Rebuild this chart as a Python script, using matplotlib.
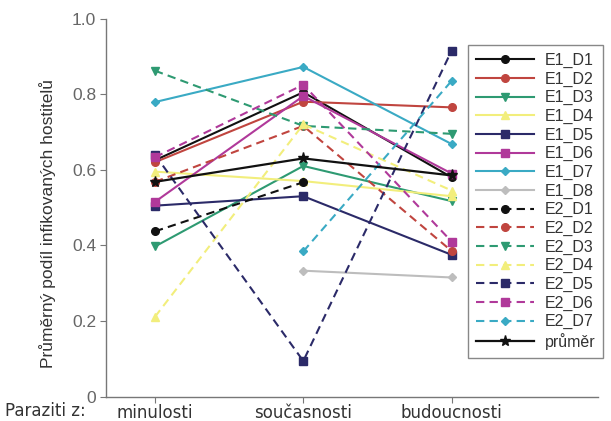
import numpy as np
import matplotlib.pyplot as plt

# ---------------------------------------------------------------------------
# Data
# ---------------------------------------------------------------------------

categories = ["minulosti", "současnosti", "budoucnosti"]
nan = np.nan

series_names = ["E1_D1", "E1_D2", "E1_D3", "E1_D4", "E1_D5", "E1_D6", "E1_D7", "E1_D8",
                "E2_D1", "E2_D2", "E2_D3", "E2_D4", "E2_D5", "E2_D6", "E2_D7"]

e1_d1 = [0.625, 0.805, 0.580]
e1_d2 = [0.620, 0.780, 0.765]
e1_d3 = [0.397, 0.610, 0.517]
e1_d4 = [0.595, 0.570, 0.530]
e1_d5 = [0.505, 0.530, 0.375]
e1_d6 = [0.515, 0.795, 0.590]
e1_d7 = [0.779, 0.872, 0.668]
e1_d8 = [nan, 0.333, 0.315]
e2_d1 = [0.437, 0.567, nan]
e2_d2 = [0.568, 0.716, 0.385]
e2_d3 = [0.862, 0.716, 0.695]
e2_d4 = [0.211, 0.720, 0.545]
e2_d5 = [0.640, 0.094, 0.915]
e2_d6 = [0.633, 0.825, 0.410]
e2_d7 = [nan, 0.384, 0.835]
mean_vals = [0.568, 0.630, 0.585]

series_values = [e1_d1, e1_d2, e1_d3, e1_d4, e1_d5, e1_d6, e1_d7, e1_d8,
                 e2_d1, e2_d2, e2_d3, e2_d4, e2_d5, e2_d6, e2_d7]

# ---------------------------------------------------------------------------
# Style
# ---------------------------------------------------------------------------

COLORS = {
    "D1": "#111111",
    "D2": "#c0453f",
    "D3": "#2e9a72",
    "D4": "#f2ee7c",
    "D5": "#2b2a68",
    "D6": "#b0399a",
    "D7": "#3aaac4",
    "D8": "#bdbdbd",
}
MARKERS = {
    "D1": "o", "D2": "o", "D3": "v", "D4": "^",
    "D5": "s", "D6": "s", "D7": "D", "D8": "D",
}

plt.rcParams.update({
    "font.family": ["Liberation Sans", "DejaVu Sans"],
})

fig = plt.figure(figsize=(6.11, 4.21), dpi=100)
ax = fig.add_axes([0.1735, 0.058, 0.806, 0.898])

x = np.arange(len(categories))

handles = []
for name, vals in zip(series_names, series_values):
    d = name.split("_")[1]
    ls = "-" if name.startswith("E1") else (0, (4, 2.5))
    vals = np.array(vals, dtype=float)
    msize = 5.5 if MARKERS[d] != "D" else 4.5
    line, = ax.plot(x, vals, color=COLORS[d], linestyle=ls, marker=MARKERS[d],
                    markersize=msize, linewidth=1.5, label=name)
    handles.append(line)

line, = ax.plot(x, mean_vals, color="#111111", marker="*", markersize=8,
                linewidth=1.6, label="průměr")
handles.append(line)

ax.set_xlim(-0.33, 2.99)
ax.set_ylim(0, 1.0)
ax.set_yticks([0, 0.2, 0.4, 0.6, 0.8, 1.0])
ax.set_yticklabels(["0", "0.2", "0.4", "0.6", "0.8", "1.0"])
ax.set_xticks(x)
ax.set_xticklabels(categories, family="DejaVu Sans")

for side in ["top", "right"]:
    ax.spines[side].set_visible(False)
for side in ["left", "bottom"]:
    ax.spines[side].set_color("#777777")
    ax.spines[side].set_linewidth(1.0)

ax.tick_params(axis="y", colors="#777777", labelcolor="#666666",
               labelsize=12.5, length=4, pad=3)
ax.tick_params(axis="x", colors="#777777", labelcolor="#333333",
               labelsize=12, length=4, pad=1)

fig.text(0.077, 0.468, "Průměrný podíl infikovaných hostitelů", rotation=90,
         ha="center", va="center", fontsize=12.5, color="#333333")
fig.text(0.008, 0.024, "Paraziti z:", ha="left", va="center",
         fontsize=12, color="#333333", family="DejaVu Sans")

leg = fig.legend(handles=handles, loc="upper left",
                 bbox_to_anchor=(0.766, 0.893), borderaxespad=0, fontsize=11.5,
                 handlelength=3.6, handletextpad=0.7, labelspacing=0.22,
                 borderpad=0.5, fancybox=False, edgecolor="#888888",
                 framealpha=1.0)
leg.get_frame().set_linewidth(1.0)
for t in leg.get_texts():
    t.set_color("#333333")

fig.savefig("out.png", dpi=100)
